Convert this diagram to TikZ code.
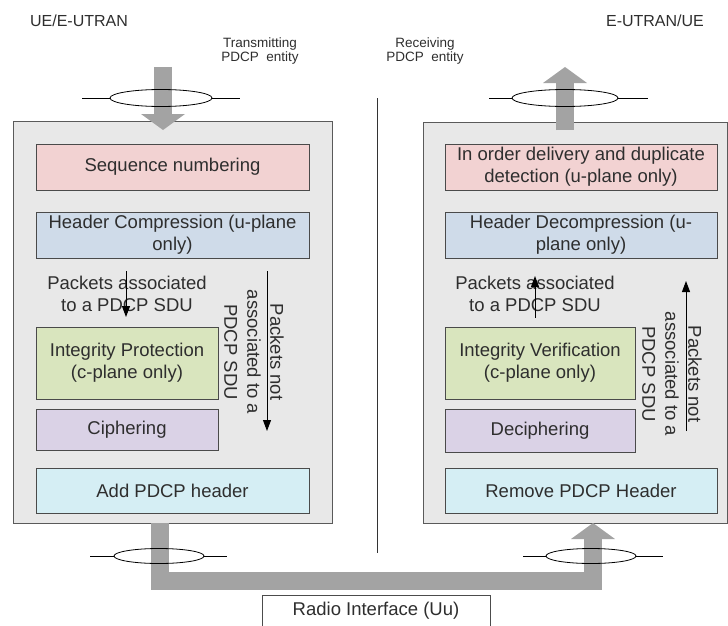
\documentclass[tikz,border=0pt]{standalone}
\usepackage{fontspec}
\setmainfont{Liberation Sans}
\usetikzlibrary{arrows.meta,shapes.geometric}

\definecolor{panelfill}{HTML}{E8E8E8}
\definecolor{panelline}{HTML}{5A5A5A}
\definecolor{boxline}{HTML}{4A4A4A}
\definecolor{txt}{HTML}{2E2E2E}
\definecolor{flowgray}{HTML}{A3A3A3}
\definecolor{seqfill}{HTML}{F2D2D2}
\definecolor{hdrfill}{HTML}{CFDBE9}
\definecolor{intfill}{HTML}{D9E5BE}
\definecolor{ciphfill}{HTML}{DAD2E6}
\definecolor{pdcpfill}{HTML}{D5EEF4}

\newcommand\stagefont{\fontsize{18.5}{22}\selectfont}
\newcommand\smallfont{\fontsize{13.5}{14.5}\selectfont}

\begin{document}
\begin{tikzpicture}[x=1pt,y=-1pt,
  panel/.style={draw=panelline, fill=panelfill, line width=1pt},
  stage/.style={draw=boxline, line width=1pt, inner sep=0pt, align=center,
    font=\stagefont, text=txt},
  note/.style={inner sep=0pt, align=center, font=\stagefont, text=txt},
  title/.style={inner sep=0pt, font=\fontsize{16}{18}\selectfont, text=txt},
  entity/.style={inner sep=0pt, align=center, font=\smallfont, text=txt},
  flow/.style={draw=flowgray, line width=18pt, line join=miter,
    -{Triangle[length=16pt, width=44pt, line width=0pt]}},
  thin/.style={draw=black, line width=0.9pt, -{Triangle[length=11pt, width=8pt]}},
  ring/.style={ellipse, draw=black, line width=0.8pt, inner sep=0pt},
  tie/.style={draw=black, line width=0.8pt}
]
\useasboundingbox (0,0) rectangle (728,626);

% titles
\node[title] (ueL) at (79,21) {UE/E-UTRAN};
\node[title] (ueR) at (655,21) {E-UTRAN/UE};
\node[entity] (tx) at (260,51) {Transmitting\\PDCP\ \ entity};
\node[entity] (rx) at (425,51) {Receiving\\PDCP\ \ entity};

% separator between the two entities
\coordinate (sepTop) at (377,98);
\coordinate (sepBot) at (377,553);
\draw[line width=0.8pt, black!80] (sepTop) -- (sepBot);

% entity panels
\draw[panel] (13,121) rectangle (332,523);
\draw[panel] (423,122) rectangle (727,523);

% transmitting side stages
\node[stage, fill=seqfill, minimum width=273pt, minimum height=46pt] (seq) at (172.5,167) {Sequence numbering};
\node[stage, fill=hdrfill, minimum width=273pt, minimum height=46pt] (hc) at (172.5,235) {Header Compression (u-plane\\only)};
\node[stage, fill=intfill, minimum width=182pt, minimum height=72pt] (ip) at (127,363) {Integrity Protection\\(c-plane only)};
\node[stage, fill=ciphfill, minimum width=182pt, minimum height=41pt] (ci) at (127,429.5) {Ciphering};
\node[stage, fill=pdcpfill, minimum width=273pt, minimum height=45pt] (add) at (172.5,490.5) {Add PDCP header};

% receiving side stages
\node[stage, fill=seqfill, minimum width=272pt, minimum height=46pt] (iod) at (581,167) {In order delivery and duplicate\\detection (u-plane only)};
\node[stage, fill=hdrfill, minimum width=272pt, minimum height=46pt] (hd) at (581,235) {Header Decompression (u-\\plane only)};
\node[stage, fill=intfill, minimum width=190pt, minimum height=72pt] (iv) at (540,363) {Integrity Verification\\(c-plane only)};
\node[stage, fill=ciphfill, minimum width=190pt, minimum height=43pt] (de) at (540,430.5) {Deciphering};
\node[stage, fill=pdcpfill, minimum width=272pt, minimum height=45pt] (rem) at (581,490.5) {Remove PDCP Header};

% packet annotations
\node[note] (paL) at (127,294) {Packets associated\\to a PDCP SDU};
\node[note] (paR) at (535,294) {Packets associated\\to a PDCP SDU};
\node[note, rotate=-90, font=\fontsize{18.5}{23}\selectfont] (naL) at (254,352) {Packets not\\associated to a\\PDCP SDU};
\node[note, rotate=-90, font=\fontsize{18.5}{23}\selectfont] (naR) at (672,374) {Packets not\\associated to a\\PDCP SDU};

\coordinate (aL1) at (126,271);
\coordinate (aL2) at (126,317);
\coordinate (bL1) at (267,271);
\coordinate (bL2) at (267,431);
\coordinate (aR1) at (535,318);
\coordinate (aR2) at (535,276);
\coordinate (bR1) at (686,431);
\coordinate (bR2) at (686,281);
\draw[thin] (aL1) -- (aL2);
\draw[thin] (bL1) -- (bL2);
\draw[thin] (aR1) -- (aR2);
\draw[thin] (bR1) -- (bR2);

% data flow into, out of and between the entities
\coordinate (inTop) at (163,67);
\coordinate (inTip) at (163,130);
\coordinate (outBase) at (565,130);
\coordinate (outTip) at (565,67);
\coordinate (txOut) at (160,523);
\coordinate (txDown) at (160,580.5);
\coordinate (rxUp) at (593,580.5);
\coordinate (rxIn) at (593,523);
\draw[flow] (inTop) -- (inTip);
\draw[flow] (outBase) -- (outTip);
\draw[flow] (txOut) -- (txDown) -- (rxUp) -- (rxIn);

% service access points
\node[ring, minimum width=102pt, minimum height=17pt] (sapTL) at (161,98) {};
\node[ring, minimum width=106pt, minimum height=17pt] (sapTR) at (565,98) {};
\node[ring, minimum width=90pt, minimum height=15pt] (sapBL) at (159,556) {};
\node[ring, minimum width=90pt, minimum height=15pt] (sapBR) at (591,556) {};
\coordinate (tl1) at (82,98);   \coordinate (tl2) at (240,98);
\coordinate (tr1) at (489,98);  \coordinate (tr2) at (648,98);
\coordinate (bl1) at (90,556);  \coordinate (bl2) at (227,556);
\coordinate (br1) at (523,556); \coordinate (br2) at (663,556);
\draw[tie] (tl1) -- (sapTL.west) (sapTL.east) -- (tl2);
\draw[tie] (tr1) -- (sapTR.west) (sapTR.east) -- (tr2);
\draw[tie] (bl1) -- (sapBL.west) (sapBL.east) -- (bl2);
\draw[tie] (br1) -- (sapBR.west) (sapBR.east) -- (br2);

% air interface label
\node[draw=black!70, line width=0.8pt, fill=white, minimum width=228pt, minimum height=31pt,
  inner sep=0pt, font=\stagefont, text=txt] (uu) at (376,611) {Radio Interface (Uu)};
\end{tikzpicture}
\end{document}
